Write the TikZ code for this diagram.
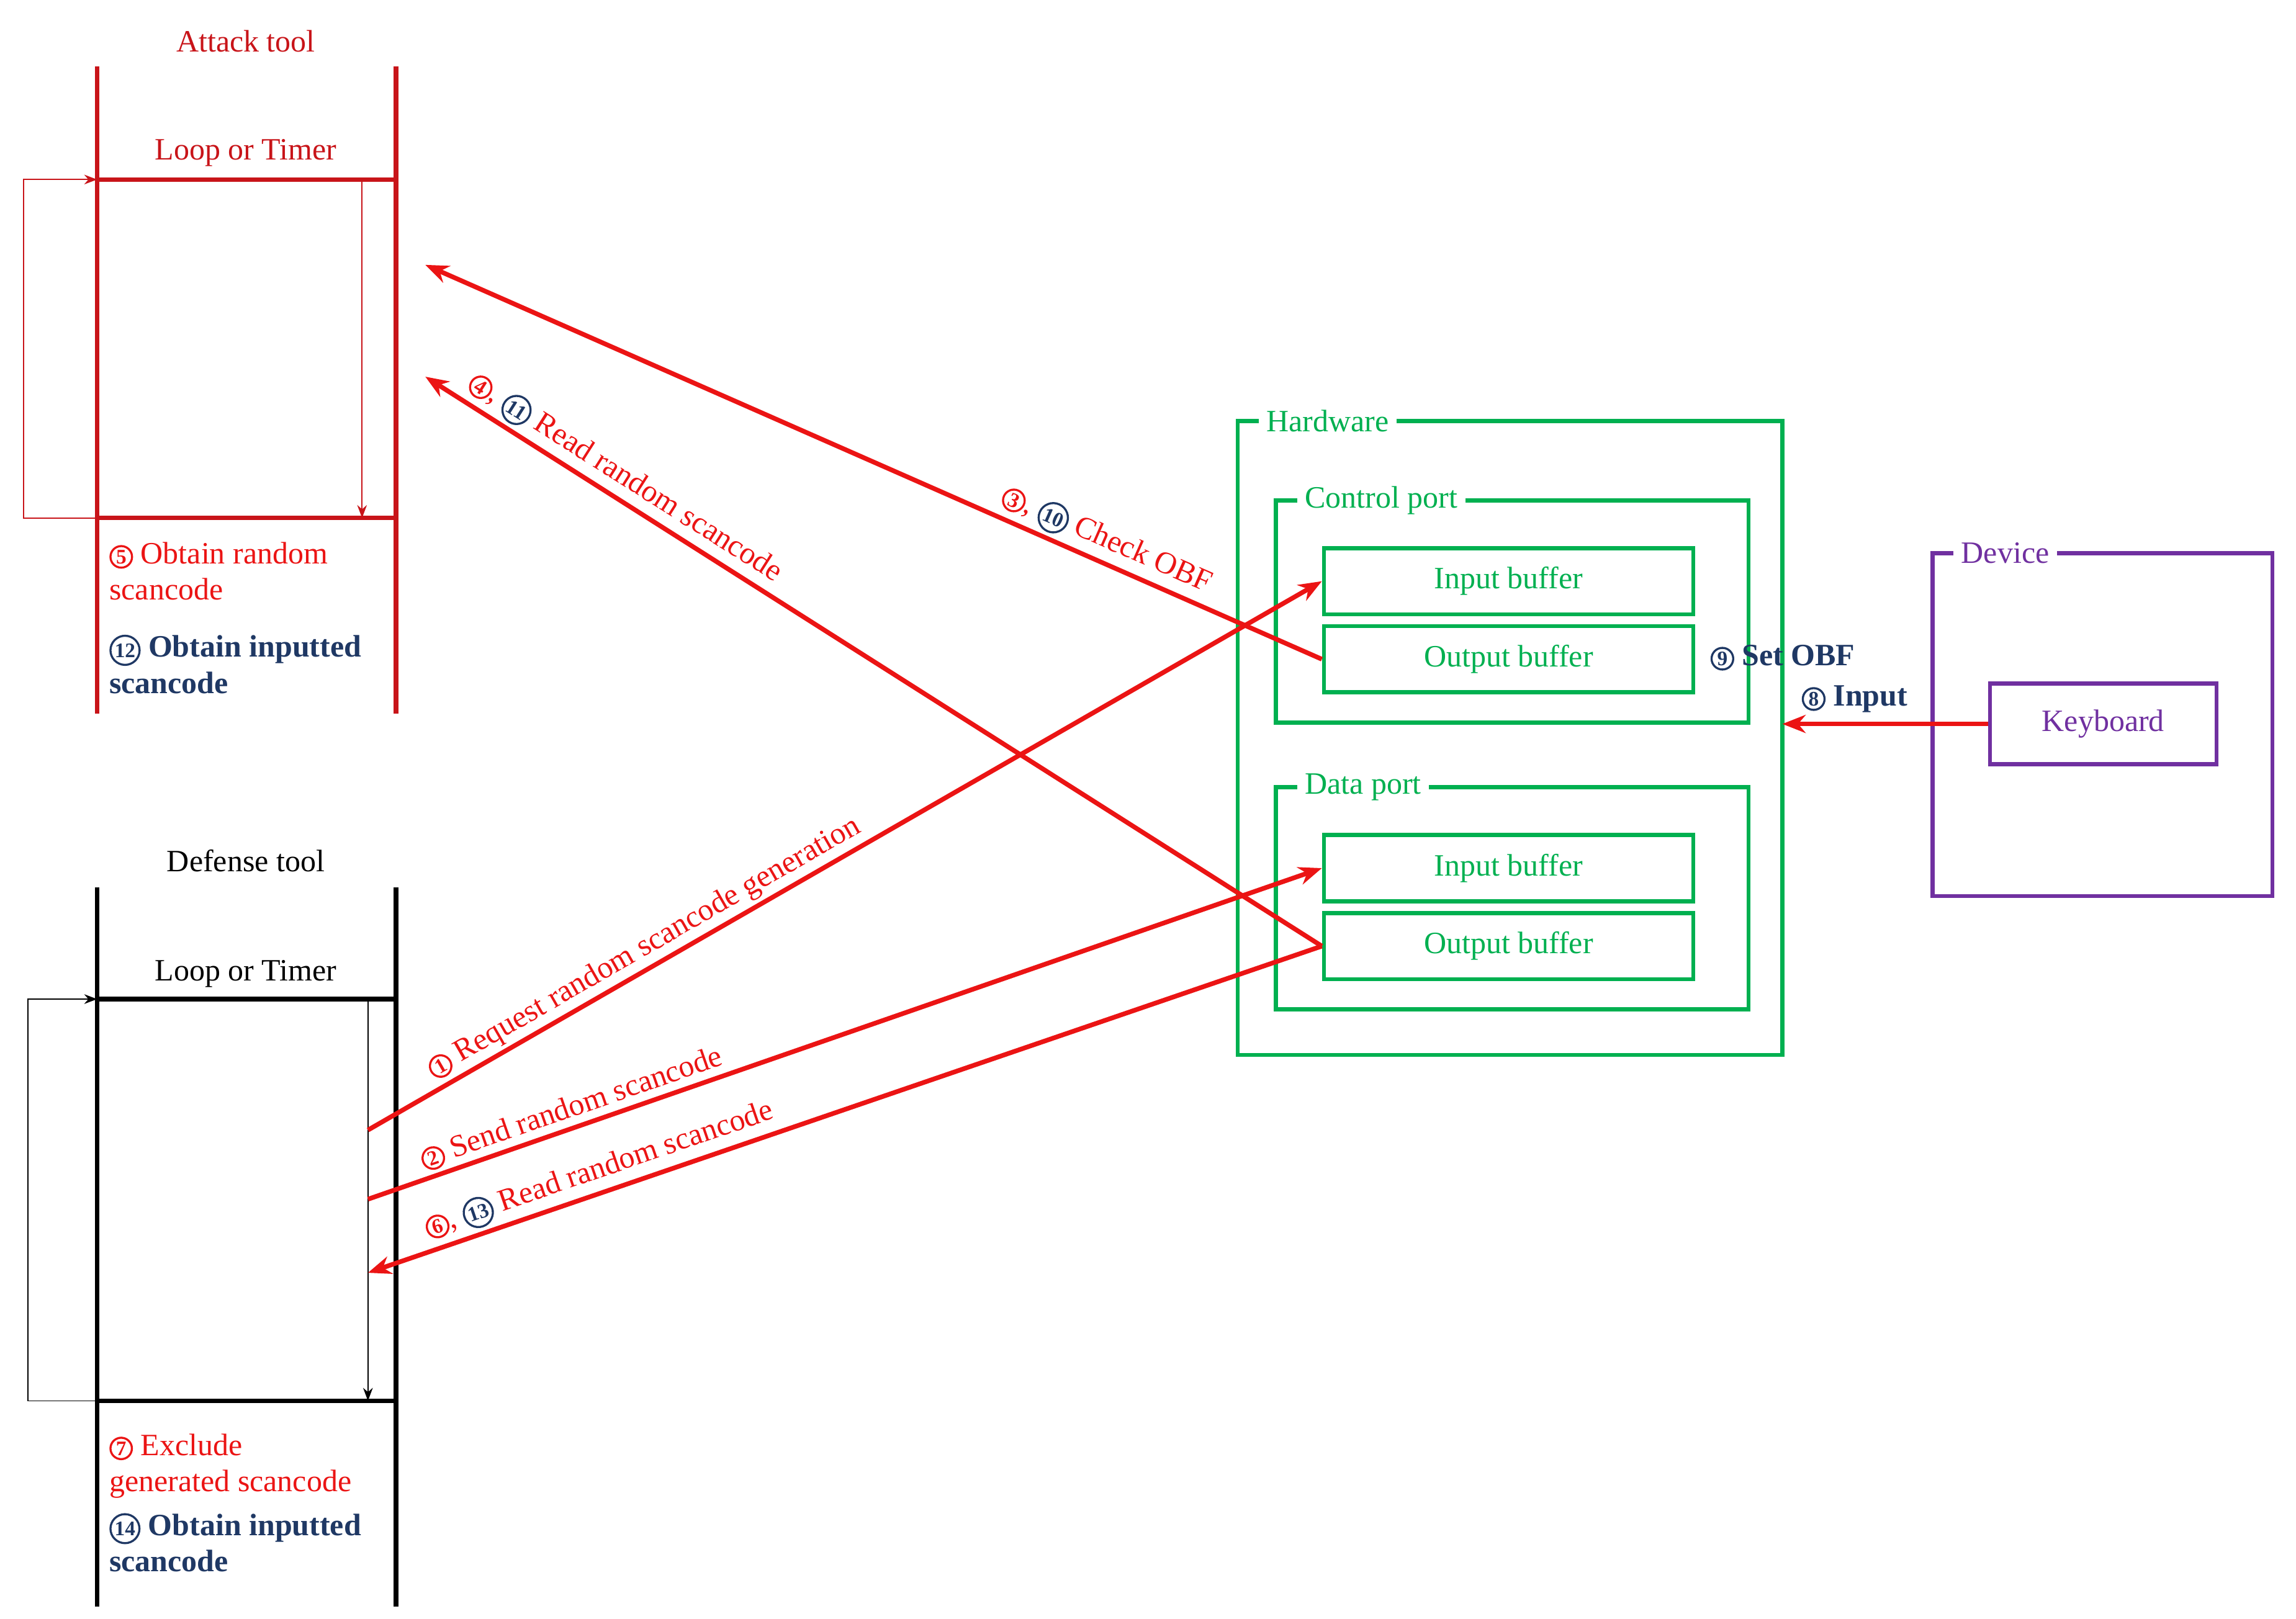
\documentclass[tikz,border=0pt]{standalone}
\usepackage{fontspec}
\setmainfont{Liberation Serif}
\usetikzlibrary{arrows.meta}
\definecolor{atk}{RGB}{200,20,25}
\definecolor{arw}{RGB}{235,20,20}
\definecolor{hw}{RGB}{0,176,80}
\definecolor{dev}{RGB}{112,48,160}
\definecolor{num}{RGB}{31,56,100}
\newcommand\cn[2][arw]{\tikz[baseline=(c.base)]\node(c)[circle,draw=#1,text=#1,thick,inner sep=0.6pt,font=\fontsize{8}{9}\selectfont\bfseries]{#2};}
\tikzset{
  txt/.style={font=\fontsize{12}{14}\selectfont},
  buf/.style={draw=hw,line width=1.6pt,minimum width=5.02cm,minimum height=0.9cm,text=hw,txt},
  boxlbl/.style={fill=white,inner sep=3pt,anchor=west,txt},
  flow/.style={arw,line width=1.8pt,-{Stealth[length=9pt,width=7pt]}},
  msg/.style={sloped,above,txt,text=arw,inner sep=2pt}
}
\begin{document}
\begin{tikzpicture}[x=0.02cm,y=-0.02cm]
\useasboundingbox (0,0) rectangle (1560,1100);
% attack tool
\node[txt,text=atk] (atitle) at (167,28) {Attack tool};
\draw[atk,line width=1.8pt] (66,45)--(66,485) (269,45)--(269,485);
\draw[atk,line width=1.8pt] (66,122)--(269,122) (66,352)--(269,352);
\node[txt,text=atk] (aloop) at (167,104) {Loop or Timer};
\draw[atk,thin,-{Stealth[length=5pt]}] (66,352)--(16,352)--(16,122)--(66,122);
\draw[atk,thin,-{Stealth[length=5pt]}] (246,122)--(246,352);
\node[txt,text=arw,anchor=north west,align=left,inner sep=0pt] (aobt) at (74,368) {\cn{5} Obtain random\\scancode};
\node[txt,text=num,anchor=north west,align=left,inner sep=0pt,font=\fontsize{12}{14}\selectfont\bfseries] (ainp) at (74,431) {\cn[num]{12} Obtain inputted\\scancode};
% defense tool
\node[txt] (dtitle) at (167,585) {Defense tool};
\draw[line width=1.8pt] (66,603)--(66,1092) (269,603)--(269,1092);
\draw[line width=1.8pt] (66,679)--(269,679) (66,952)--(269,952);
\node[txt] (dloop) at (167,662) {Loop or Timer};
\draw[thin,-{Stealth[length=5pt]}] (66,952)--(19,952)--(19,679)--(66,679);
\draw[thin,-{Stealth[length=5pt]}] (250,679)--(250,952);
\node[txt,text=arw,anchor=north west,align=left,inner sep=0pt] (dexc) at (74,974) {\cn{7} Exclude\\generated scancode};
\node[txt,text=num,anchor=north west,align=left,inner sep=0pt,font=\fontsize{12}{14}\selectfont\bfseries] (dinp) at (74,1028) {\cn[num]{14} Obtain inputted\\scancode};
% hardware
\draw[hw,line width=1.6pt] (841,286) rectangle (1211,717);
\node[boxlbl,text=hw] (hwl) at (855,286) {Hardware};
\draw[hw,line width=1.6pt] (867,340) rectangle (1188,491);
\node[boxlbl,text=hw] (cpl) at (881,340) {Control port};
\draw[hw,line width=1.6pt] (867,535) rectangle (1188,686);
\node[boxlbl,text=hw] (dpl) at (881,535) {Data port};
\node[buf] (cib) at (1025,395) {Input buffer};
\node[buf] (cob) at (1025,448) {Output buffer};
\node[buf] (dib) at (1025,590) {Input buffer};
\node[buf] (dob) at (1025,643) {Output buffer};
% device
\draw[dev,line width=1.6pt] (1313,376) rectangle (1544,609);
\node[boxlbl,text=dev] (devl) at (1327,376) {Device};
\node[draw=dev,line width=1.6pt,minimum width=3.08cm,minimum height=1.1cm,text=dev,txt] (kbd) at (1429,492) {Keyboard};
\coordinate (hwe) at (1211,492);
\draw[flow] (kbd.west)--(hwe);
\node[txt,text=num,font=\fontsize{12}{14}\selectfont\bfseries,anchor=west] (setobf) at (1156,447) {\cn[num]{9} Set OBF};
\node[txt,text=num,font=\fontsize{12}{14}\selectfont\bfseries,anchor=west] (inp) at (1218,475) {\cn[num]{8} Input};
% messages
\coordinate (a1) at (289,180);
\coordinate (a2) at (289,256);
\coordinate (d1) at (250,768);
\coordinate (d2) at (250,815);
\coordinate (d3) at (250,865);
\draw[flow] (cob.west)--(a1) node[msg,pos=0.25] {\cn{3}, \cn[num]{10} Check OBF};
\draw[flow] (dob.west)--(a2) node[msg,pos=0.79] {\cn{4}, \cn[num]{11} Read random scancode};
\draw[flow] (d1)--(cib.west) node[msg,pos=0.3] {\cn{1} Request random scancode generation};
\draw[flow] (d2)--(dib.west) node[msg,pos=0.22] {\cn{2} Send random scancode};
\draw[flow] (dob.west)--(d3) node[msg,pos=0.75] {\cn{6}, \cn[num]{13} Read random scancode};
\end{tikzpicture}
\end{document}
